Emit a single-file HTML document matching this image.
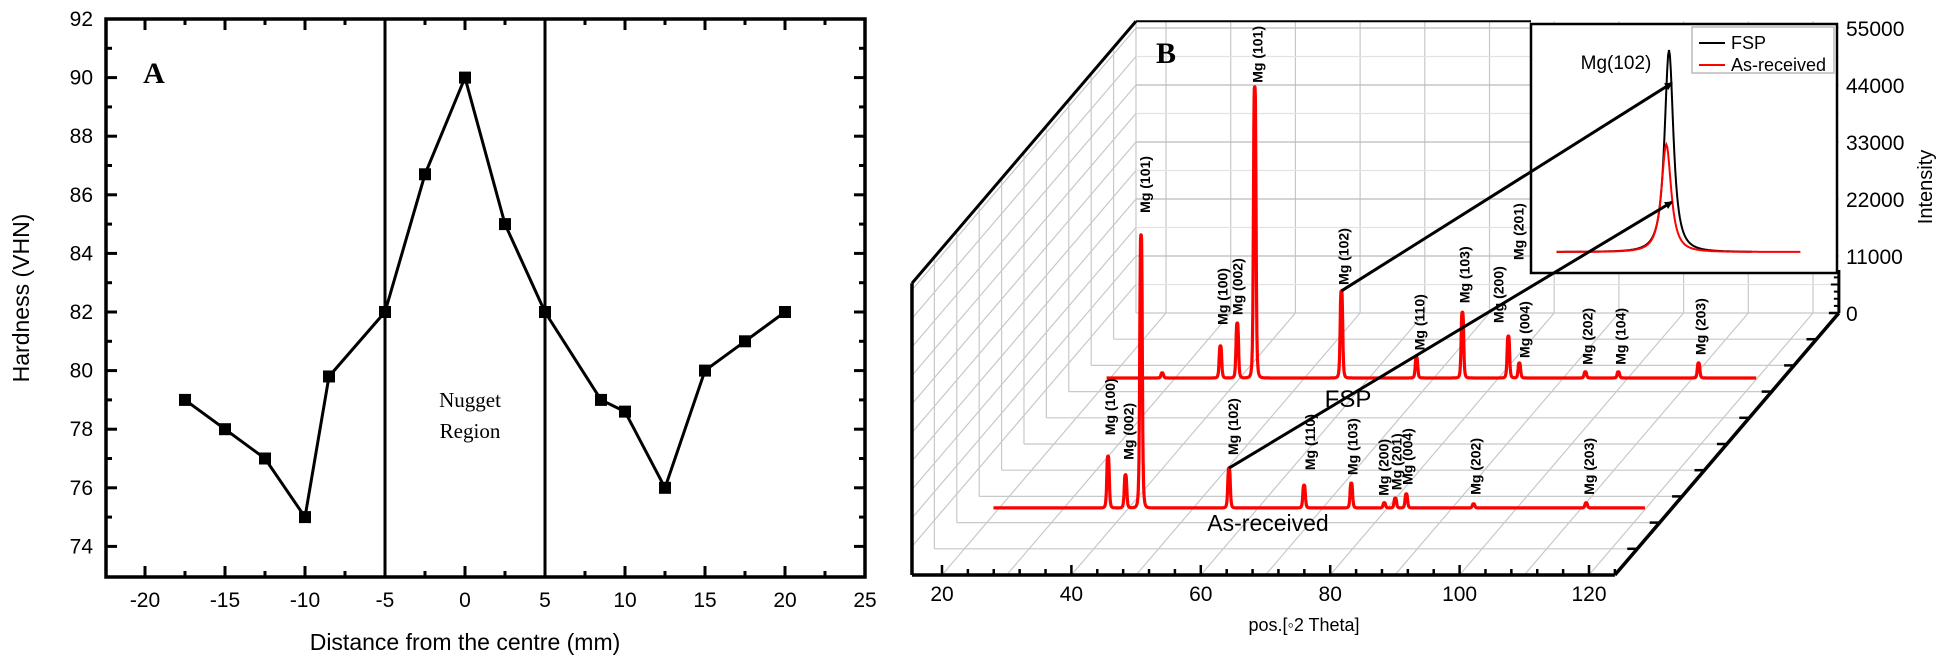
<!DOCTYPE html>
<html><head><meta charset="utf-8"><style>
html,body{margin:0;padding:0;background:#fff;}
svg{display:block;font-family:"Liberation Sans",sans-serif;}
</style></head><body>
<svg id="fig" width="1943" height="662" viewBox="0 0 1943 662" xmlns="http://www.w3.org/2000/svg">
<defs><marker id="ah" markerWidth="8" markerHeight="8" refX="7" refY="4" orient="auto" markerUnits="userSpaceOnUse"><path d="M0,0 L8,4 L0,8 z" fill="#000"/></marker></defs>
<g id="pa"></g>
<g id="pb"></g>
</svg>
<script>
// ---------- Panel A data ----------
const aDist=[-17.5,-15,-12.5,-10,-8.5,-5,-2.5,0,2.5,5,8.5,10,12.5,15,17.5,20];
const aHard=[79,78,77,75,79.8,82,86.7,90,85,82,79,78.6,76,80,81,82];
const aXTicks=[-20,-15,-10,-5,0,5,10,15,20,25];
const aYTicks=[74,76,78,80,82,84,86,88,90,92];
const aBounds=[-5,5];
// ---------- Panel B data ----------
const fspTheta=[28.0,37.0,39.6,42.3,55.7,67.3,74.4,81.5,83.2,93.4,98.5,110.9];
const fspInt=[1000,6200,10600,56200,16800,4000,12700,8100,2900,1200,1200,2900];
const fspLabels=['','Mg (100)','Mg (002)','Mg (101)','Mg (102)','Mg (110)','Mg (103)','Mg (200)','Mg (004)','Mg (202)','Mg (104)','Mg (203)'];
const arTheta=[36.8,39.5,41.9,55.5,67.1,74.4,79.5,81.2,82.9,93.3,110.7];
const arInt=[10000,6400,52700,7700,4400,4800,1000,1900,2700,800,1000];
const arLabels=['Mg (100)','Mg (002)','Mg (101)','Mg (102)','Mg (110)','Mg (103)','Mg (200)','Mg (201)','Mg (004)','Mg (202)','Mg (203)'];
const bXTicks=[20,40,60,80,100,120];
const bZTicks=[0,11000,22000,33000,44000,55000];
const insetCenter=[0,-0.3];
const insetHeight=[46000,24500];
const insetWidth=[1.0,1.0];

const NS='http://www.w3.org/2000/svg';
function mk(tag,attrs,parent){const e=document.createElementNS(NS,tag);for(const k in attrs)e.setAttribute(k,attrs[k]);parent.appendChild(e);return e;}
function txt(s,attrs,parent){const e=mk('text',attrs,parent);e.textContent=s;return e;}

// ===== Panel A =====
const pa=document.getElementById('pa');
const ax=v=>465+v*16, ay=v=>19+(92-v)*29.3;
const L=106,R=865,T=19,B=577;
let e;
for(let v=-20;v<=25;v+=2.5){const maj=(v%5===0);
 e=mk('line',{x1:ax(v),x2:ax(v),y1:B,y2:B-(maj?11:6),stroke:'#000','stroke-width':3},pa);
 
 e=mk('line',{x1:ax(v),x2:ax(v),y1:T,y2:T+(maj?11:6),stroke:'#000','stroke-width':3},pa);
 }
for(let v=74;v<=92;v+=1){const maj=(v%2===0);
 e=mk('line',{x1:L,x2:L+(maj?11:6),y1:ay(v),y2:ay(v),stroke:'#000','stroke-width':3},pa);
 
 e=mk('line',{x1:R,x2:R-(maj?11:6),y1:ay(v),y2:ay(v),stroke:'#000','stroke-width':3},pa);
 }
e=mk('rect',{x:L,y:T,width:R-L,height:B-T,fill:'none',stroke:'#000','stroke-width':3.5},pa);

aXTicks.forEach(v=>{e=txt(String(v),{x:ax(v),y:607,'font-size':21,'text-anchor':'middle'},pa);
 });
aYTicks.forEach(v=>{e=txt(String(v),{x:93,y:ay(v)+7,'font-size':21,'text-anchor':'end'},pa);
 });
e=txt('Distance from the centre (mm)',{x:465,y:650,'font-size':23,'text-anchor':'middle'},pa);

e=txt('Hardness (VHN)',{x:0,y:0,'font-size':23,'text-anchor':'middle',transform:'translate(29,298) rotate(-90)'},pa);

aBounds.forEach(v=>{e=mk('line',{x1:ax(v),x2:ax(v),y1:T,y2:B,stroke:'#000','stroke-width':3},pa);
 });
e=mk('polyline',{points:aDist.map((d,i)=>ax(d)+','+ay(aHard[i])).join(' '),fill:'none',stroke:'#000','stroke-width':3},pa);

aDist.forEach((d,i)=>{e=mk('rect',{x:ax(d)-6,y:ay(aHard[i])-6,width:12,height:12,fill:'#000'},pa);
 });
e=txt('A',{x:154,y:83,'font-size':30,'font-weight':'bold','font-family':'Liberation Serif, serif','text-anchor':'middle'},pa);

e=txt('Nugget',{x:470,y:407,'font-size':21,'font-family':'Liberation Serif, serif','text-anchor':'middle'},pa);

e=txt('Region',{x:470,y:438,'font-size':21,'font-family':'Liberation Serif, serif','text-anchor':'middle'},pa);


// ===== Panel B =====
const pb=document.getElementById('pb');
const DX=224, DY=262, ZS=57/11000;
const fx=t=>942+(t-20)*6.47;
const px=(t,d)=>fx(t)+d*DX;
const py=(z,d)=>575-d*DY-z*ZS;
const TMIN=15.36, TMAX=124.0, ZMAX=56300;
const G='#c8c8c8';
// floor grid
for(let k=0;k<=10;k++){const d=k/10;
 e=mk('line',{x1:px(TMIN,d),x2:px(TMAX,d),y1:py(0,d),y2:py(0,d),stroke:G,'stroke-width':1.2},pb);
 
 e=mk('line',{x1:px(TMIN,d),x2:px(TMIN,d),y1:py(0,d),y2:py(ZMAX,d),stroke:G,'stroke-width':1.2},pb);
 }
for(let t=20;t<=120;t+=10){
 e=mk('line',{x1:px(t,0),x2:px(t,1),y1:py(0,0),y2:py(0,1),stroke:G,'stroke-width':1.2},pb);
 
 e=mk('line',{x1:px(t,1),x2:px(t,1),y1:py(0,1),y2:py(ZMAX,1),stroke:G,'stroke-width':1.2},pb);
 }
for(let z=5500;z<=ZMAX;z+=5500){
 e=mk('line',{x1:px(TMIN,0),x2:px(TMIN,1),y1:py(z,0),y2:py(z,1),stroke:G,'stroke-width':1.2},pb);
 
 e=mk('line',{x1:px(TMIN,1),x2:px(TMAX,1),y1:py(z,1),y2:py(z,1),stroke:(z%11000===0?'#bbb':'#e2e2e2'),'stroke-width':1.2},pb);
 }
// frame
const frame=[[px(TMIN,0),py(ZMAX,0),px(TMIN,0),py(0,0),3.5],[px(TMIN,0),py(ZMAX,0),px(TMIN,1),py(ZMAX,1),3],
 [px(TMIN,1),py(ZMAX,1),1531,py(ZMAX,1),2],[px(TMIN,0),py(0,0),px(TMAX,0),py(0,0),3.5],[px(TMAX,0),py(0,0),px(TMAX,1),py(0,1),3.5],
 [px(TMAX,1),py(0,1),px(TMAX,1),270,3]];
frame.forEach(f=>{e=mk('line',{x1:f[0],y1:f[1],x2:f[2],y2:f[3],stroke:'#000','stroke-width':f[4]},pb);
 });
for(let k=1;k<=10;k++){const d=k/10;
 e=mk('line',{x1:px(TMAX,d),x2:px(TMAX,d)-10,y1:py(0,d),y2:py(0,d),stroke:'#000','stroke-width':2.5},pb);
 }
for(let z=1375;z<=7000;z+=1375){
 e=mk('line',{x1:px(TMAX,1),x2:px(TMAX,1)-(z%5500===0?8:5),y1:py(z,1),y2:py(z,1),stroke:'#000','stroke-width':2},pb);
 }
for(let t=20;t<=124;t+=4){const maj=(t%20===0);
 e=mk('line',{x1:fx(t),x2:fx(t),y1:575,y2:575-(maj?10:6),stroke:'#000','stroke-width':2.5},pb);
 }
bXTicks.forEach(t=>{e=txt(String(t),{x:fx(t),y:601,'font-size':21,'text-anchor':'middle'},pb);
 });
e=txt('pos.[\u25E62 Theta]',{x:1304,y:631,'font-size':18,'text-anchor':'middle'},pb);

bZTicks.forEach(z=>{e=txt(String(z),{x:1846,y:py(z,1)+8,'font-size':21},pb);
 });
e=txt('Intensity',{x:0,y:0,'font-size':20,'text-anchor':'middle',transform:'translate(1932,187) rotate(-90)'},pb);

e=txt('B',{x:1166,y:63,'font-size':30,'font-weight':'bold','font-family':'Liberation Serif, serif','text-anchor':'middle'},pb);


function profile(th,it,t,g){let s=0;for(let i=0;i<th.length;i++){const u=(t-th[i])/g;s+=it[i]/(1+u*u*u*u);}return s;}
function drawSeries(th,it,d,t0,t1,name){
 const pts=[];for(let t=t0;t<=t1+1e-9;t+=0.04){pts.push(px(t,d).toFixed(1)+','+py(profile(th,it,t,0.22),d).toFixed(1));}
 const p=mk('polyline',{points:pts.join(' '),fill:'none',stroke:'#ff0000','stroke-width':3.2,'stroke-linejoin':'round'},pb);
 return p;}
let s=drawSeries(arTheta,arInt,0.256,19.1,119.8);


s=drawSeries(fspTheta,fspInt,0.752,19.4,119.8);



const fspGap=[0,21,8,4,6,7,9,13,5,7,7,8];
const fspDx=[0,2,0,3,2,3,2,-10,5,2,2,2];
const arGap=[21,15,22,13,15,8,7,8,9,9,8];
const arDx=[2,3,4,4,6,1,-1,1,1,2,3];
function drawLabels(th,it,labels,gaps,dxs,d){
 labels.forEach((lab,i)=>{if(!lab)return;
  const x=px(th[i],d)+dxs[i]+5, y=py(it[i],d)-gaps[i];
  const t=txt(lab,{x:0,y:0,'font-size':14,'font-weight':'bold',transform:'translate('+x+','+y+') rotate(-90)'},pb);
  
  });}
drawLabels(fspTheta,fspInt,fspLabels,fspGap,fspDx,0.752);
drawLabels(arTheta,arInt,arLabels,arGap,arDx,0.256);
e=txt('Mg (201)',{x:0,y:0,'font-size':14,'font-weight':'bold',transform:'translate('+(px(fspTheta[8],0.752)+4)+',260) rotate(-90)'},pb);


e=txt('FSP',{x:1348,y:407,'font-size':24,'text-anchor':'middle'},pb);

e=txt('As-received',{x:1268,y:531,'font-size':23,'text-anchor':'middle'},pb);


// inset
e=mk('rect',{x:1531,y:24,width:306,height:249,fill:'#fff',stroke:'#000','stroke-width':2.5},pb);

const ix=v=>1669+v*9, iy=v=>252-v*202/46000;
function insetCurve(c,h,w,a,b){const pts=[];for(let v=a;v<=b+1e-9;v+=0.1){const u=(v-c)/w;pts.push(ix(v).toFixed(1)+','+iy(h/(1+u*u*(1+0.15*Math.abs(u)))).toFixed(1));}return pts.join(' ');}
e=mk('polyline',{points:insetCurve(insetCenter[0],insetHeight[0],insetWidth[0]*0.62,-12.5,9.2),fill:'none',stroke:'#000','stroke-width':2},pb);

e=mk('polyline',{points:insetCurve(insetCenter[1],insetHeight[1],insetWidth[1]*0.68,-12.5,14.6),fill:'none',stroke:'#ff0000','stroke-width':2},pb);

e=txt('Mg(102)',{x:1616,y:69,'font-size':19,'text-anchor':'middle'},pb);

e=mk('rect',{x:1692,y:27,width:142,height:46,fill:'#fff',stroke:'#bbb','stroke-width':1.5},pb);

e=mk('line',{x1:1699,x2:1725,y1:43,y2:43,stroke:'#000','stroke-width':2},pb);

e=txt('FSP',{x:1731,y:49,'font-size':18},pb);

e=mk('line',{x1:1699,x2:1725,y1:65,y2:65,stroke:'#ff0000','stroke-width':2},pb);

e=txt('As-received',{x:1731,y:71,'font-size':18},pb);


// arrows
e=mk('line',{x1:px(fspTheta[4],0.752),y1:py(fspInt[4],0.752),x2:1672,y2:83,stroke:'#000','stroke-width':3,'marker-end':'url(#ah)'},pb);

e=mk('line',{x1:px(arTheta[3],0.256),y1:py(arInt[3],0.256),x2:1672,y2:202,stroke:'#000','stroke-width':3,'marker-end':'url(#ah)'},pb);

</script>
</body></html>
